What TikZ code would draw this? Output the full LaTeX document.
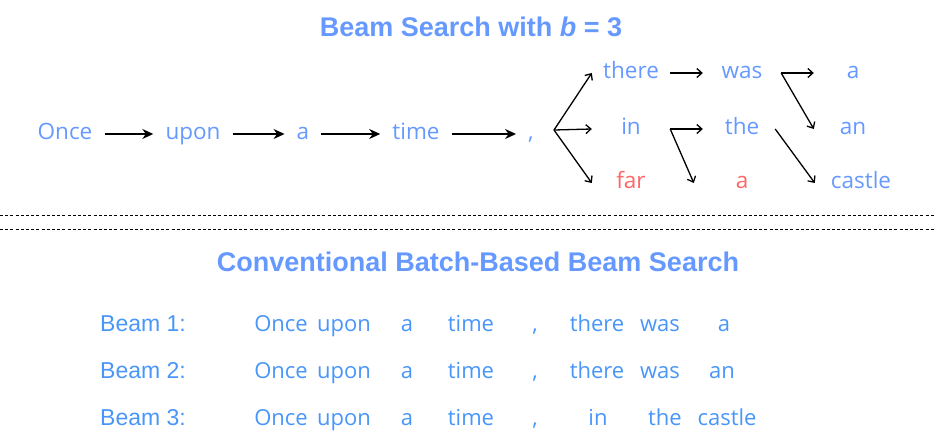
\documentclass[tikz,border=0pt]{standalone}
\usepackage{fontspec}
\setmainfont{Liberation Sans}
\newfontfamily\wordfont{Open Sans}
\usetikzlibrary{arrows.meta}
\definecolor{wblue}{RGB}{102,153,255}
\definecolor{bblue}{RGB}{72,150,250}
\definecolor{wred}{RGB}{255,102,102}
\begin{document}
\begin{tikzpicture}[x=1pt,y=-1pt,
 word/.style={font=\wordfont\fontsize{22.5}{26}\selectfont, text=wblue, inner sep=0pt, text height=16pt, text depth=5pt},
 r1/.style={word, inner xsep=12pt},
 col/.style={word, minimum width=78pt},
 bw/.style={font=\wordfont\fontsize{22}{26}\selectfont, text=bblue, anchor=base, inner sep=0pt},
 lab/.style={font=\fontsize{23}{26}\selectfont, text=bblue, anchor=base west, inner sep=0pt},
 hdr/.style={font=\bfseries\fontsize{27}{30}\selectfont, text=wblue, anchor=base, inner sep=0pt},
 big/.style={draw, line width=1.7pt, -{Stealth[length=11pt,width=10pt]}},
 thin/.style={draw, line width=1.3pt, -{Straight Barb[length=5pt,width=9pt]}},
 sep/.style={draw, line width=0.9pt, dash pattern=on 3pt off 2.2pt}]
\useasboundingbox (0,0) rectangle (934,444);
% titles
\node[hdr] (t1) at (471,37) {Beam Search with \textit{b} = 3};
\node[hdr] (t2) at (478,271) {Conventional Batch-Based Beam Search};
% row 1
\node[r1] (once) at (65,134) {Once};
\node[r1] (upon) at (193,134) {upon};
\node[r1] (a1) at (303,134) {a};
\node[r1] (time) at (416,134) {time};
\node[r1] (comma) at (531,134) {,};
\coordinate (br) at (554,130);
\draw[big] (once) -- (upon);
\draw[big] (upon) -- (a1);
\draw[big] (a1) -- (time);
\draw[big] (time) -- (comma);
% tree
\node[col] (there) at (631,73) {there};
\node[col] (in) at (631,129) {in};
\node[col, text=wred] (far) at (631,183) {far};
\node[col] (was) at (742,73) {was};
\node[col] (the) at (742,129) {the};
\node[col, text=wred] (a2) at (742,183) {a};
\node[col] (a3) at (853,73) {a};
\node[col] (an) at (853,129) {an};
\node[col] (castle) at (861,183) {castle};
\draw[thin] (br) -- (there.west);
\draw[thin] (br) -- (in.west);
\draw[thin] (br) -- (far.west);
\draw[thin] (there) -- (was);
\draw[thin] (was.east) -- (a3.west);
\draw[thin] (was.east) -- (an.west);
\draw[thin] (in.east) -- (the.west);
\draw[thin] (in.east) -- ([xshift=-9pt]a2.west);
\draw[thin] ([xshift=-6pt]the.east) -- ([xshift=-7pt]castle.west);
% separators
\draw[sep] (0,215) -- (934,215);
\draw[sep] (0,229) -- (934,229);
% beams
\foreach \r/\y in {1/331,2/378,3/425}{
  \node[lab] (lab\r) at (100,\y) {Beam \r:};
  \foreach \w/\x [count=\i] in {Once/281,upon/344,a/407,time/471}
    \node[bw] (b\r w\i) at (\x,\y) {\w};
  \node[bw] (b\r c) at (535,\y) {,};
}
\node[bw] (b1t1) at (597,331) {there};
\node[bw] (b1t2) at (660,331) {was};
\node[bw] (b1t3) at (724,331) {a};
\node[bw] (b2t1) at (597,378) {there};
\node[bw] (b2t2) at (660,378) {was};
\node[bw] (b2t3) at (722,378) {an};
\node[bw] (b3t1) at (598,425) {in};
\node[bw] (b3t2) at (665,425) {the};
\node[bw] (b3t3) at (727,425) {castle};
\end{tikzpicture}
\end{document}
